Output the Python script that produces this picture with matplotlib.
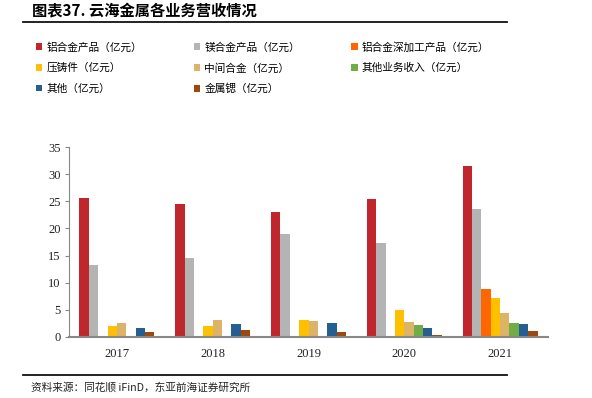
import numpy as np
import matplotlib
matplotlib.use("Agg")
import matplotlib.pyplot as plt
from matplotlib.lines import Line2D

plt.rcParams['font.family'] = ['Noto Sans CJK SC', 'DejaVu Sans']

# Data
years = ["2017", "2018", "2019", "2020", "2021"]
series_names = ["铝合金产品（亿元）", "镁合金产品（亿元）", "铝合金深加工产品（亿元）",
                "压铸件（亿元）", "中间合金（亿元）", "其他业务收入（亿元）",
                "其他（亿元）", "金属锶（亿元）"]
al_alloy = [25.6, 24.5, 23.0, 25.4, 31.5]
mg_alloy = [13.3, 14.5, 19.0, 17.4, 23.6]
al_deep = [0, 0, 0, 0, 8.8]
die_cast = [2.0, 1.9, 3.1, 4.9, 7.1]
master_alloy = [2.5, 3.1, 2.9, 2.7, 4.4]
other_biz = [0, 0, 0, 2.1, 2.5]
other = [1.7, 2.3, 2.6, 1.6, 2.4]
strontium = [0.9, 1.2, 0.9, 0.4, 1.0]
series = [al_alloy, mg_alloy, al_deep, die_cast, master_alloy, other_biz, other, strontium]
colors = ["#C0272D", "#B4B4B4", "#FF6600", "#FFC000", "#DDB467", "#70AD47", "#255E91", "#9E480E"]

fig = plt.figure(figsize=(5.92, 3.98), dpi=100)
ax = fig.add_axes([69 / 592, 1 - 336.7 / 398, 479 / 592, 189.4 / 398])

x = np.arange(len(years))
w = 0.098
handles = []
for i, (vals, c) in enumerate(zip(series, colors)):
    b = ax.bar(x + (i - 3.5) * w, vals, width=w, color=c, linewidth=0)
    handles.append(b)

ax.set_xlim(-0.5, 4.5)
ax.set_ylim(0, 35)
ax.set_yticks(range(0, 36, 5))
ax.set_xticks(x)
ax.set_xticklabels(years)
for lab in ax.get_xticklabels() + ax.get_yticklabels():
    lab.set_family("Liberation Serif")
    lab.set_fontsize(9)
    lab.set_color("#222222")
ax.tick_params(axis="x", length=0, pad=8)
ax.tick_params(axis="y", length=3, width=0.8, color="#888888", direction="out", pad=3)
for s in ["top", "right"]:
    ax.spines[s].set_visible(False)
ax.spines["left"].set_color("#888888")
ax.spines["left"].set_linewidth(0.8)
ax.spines["bottom"].set_color("#888888")
ax.spines["bottom"].set_linewidth(1.5)

# legend in row-major order over 3 columns
order = [0, 3, 6, 1, 4, 7, 2, 5]
fig.legend([handles[k] for k in order], [series_names[k] for k in order],
           ncol=3, loc="upper left", bbox_to_anchor=(36 / 592, 1 - 42 / 398),
           frameon=False, fontsize=7.7, handlelength=0.6, handleheight=0.6,
           handletextpad=0.4, columnspacing=4.8, labelspacing=0.95,
           borderaxespad=0, borderpad=0)

# title, rules and source
fig.text(32 / 592, 1 - 11 / 398, "图表37. 云海金属各业务营收情况", fontsize=11,
         fontweight="bold", va="center", ha="left")
fig.add_artist(Line2D([23 / 592, 507 / 592], [1 - 22 / 398] * 2, color="#111111", lw=1.3))
fig.add_artist(Line2D([23 / 592, 507 / 592], [1 - 374.5 / 398] * 2, color="#111111", lw=1.3))
fig.text(31 / 592, 1 - 387 / 398, "资料来源：同花顺 iFinD，东亚前海证券研究所", fontsize=7.7,
         va="center", ha="left", color="#222222")

fig.savefig("out.png", dpi=100)
